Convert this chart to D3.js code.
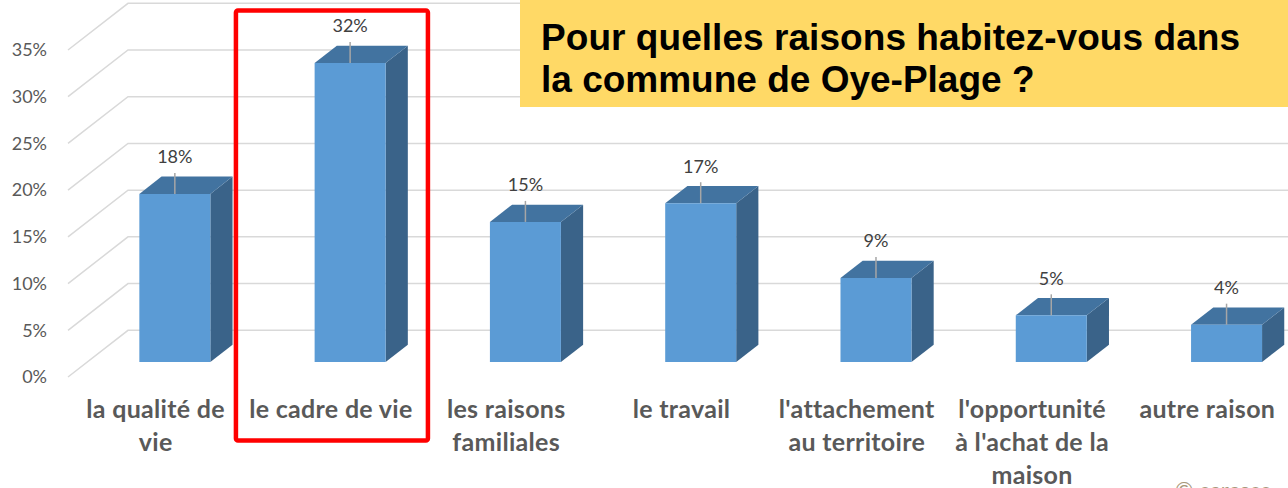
<!DOCTYPE html>
<html>
<head>
<meta charset="utf-8">
<script src="https://cdn.jsdelivr.net/npm/d3@7"></script>
<style>
  body { margin: 0; background: #fff; }
  svg { display: block; }
</style>
</head>
<body>
<svg></svg>
<script>
const width = 1288;
const height = 488;

// data
const categories = ["la qualité de vie", "le cadre de vie", "les raisons familiales", "le travail",
  "l'attachement au territoire", "l'opportunité à l'achat de la maison", "autre raison"];
const categoryLines = [["la qualité de", "vie"], ["le cadre de vie"], ["les raisons", "familiales"], ["le travail"],
  ["l'attachement", "au territoire"], ["l'opportunité", "à l'achat de la", "maison"], ["autre raison"]];
const values = [0.18, 0.32, 0.15, 0.17, 0.09, 0.05, 0.04];
const yTicks = [0, 0.05, 0.10, 0.15, 0.20, 0.25, 0.30, 0.35];
const titleLines = ["Pour quelles raisons habitez-vous dans", "la commune de Oye-Plage ?"];
const highlighted = "le cadre de vie";

const svg = d3.select('svg')
  .attr('width', width)
  .attr('height', height);

const x = d3.scaleBand()
  .domain(categories)
  .range([68, 1295]);

const y = d3.scaleLinear()
  .domain([0, 0.35])
  .range([377, 50]);

// fake 3d: depth 0 = front plane, depth 1 = back wall
const depthX = 60, depthY = -46.7;
const barFront = 0.32, barBack = 0.69;
const barW = 71;

function proj(px, v, d) {
  return [px + depthX * d, y(v) + depthY * d];
}

// gridlines: diagonal on the side wall, horizontal on the back wall
const grid = svg.append("g")
  .attr("class", "grid")
  .attr("stroke", "#d9d9d9")
  .attr("stroke-width", 1.5)
  .attr("fill", "none");

grid.selectAll("path")
  .data(yTicks)
  .enter()
  .append("path")
  .attr("d", function(t) {
    const a = proj(68, t, 0), b = proj(68, t, 1);
    return "M" + a + "L" + b + "L" + [width, b[1]];
  });

// y labels
svg.append("g")
  .selectAll("text")
  .data(yTicks)
  .enter()
  .append("text")
  .attr("x", 47)
  .attr("y", function(t) { return y(t); })
  .attr("dy", "0.35em")
  .attr("text-anchor", "end")
  .attr("font-family", "Lato, sans-serif")
  .attr("font-size", 18)
  .attr("fill", "#595959")
  .text(d3.format(".0%"));

// bars
const bar = svg.append("g")
  .attr("class", "bars")
  .selectAll("g")
  .data(values)
  .enter()
  .append("g");

function left(i) { return x(categories[i]) + x.bandwidth() / 2 - barW / 2; }
function right(i) { return left(i) + barW; }
function poly(pts) { return "M" + pts.join("L") + "Z"; }

bar.append("path")
  .attr("fill", "#3a6389")
  .attr("d", function(v, i) {
    return poly([proj(right(i), 0, barFront), proj(right(i), 0, barBack),
      proj(right(i), v, barBack), proj(right(i), v, barFront)]);
  });

bar.append("path")
  .attr("fill", "#4273a0")
  .attr("d", function(v, i) {
    return poly([proj(left(i), v, barFront), proj(right(i), v, barFront),
      proj(right(i), v, barBack), proj(left(i), v, barBack)]);
  });

bar.append("path")
  .attr("fill", "#5b9bd5")
  .attr("d", function(v, i) {
    return poly([proj(left(i), 0, barFront), proj(right(i), 0, barFront),
      proj(right(i), v, barFront), proj(left(i), v, barFront)]);
  });

// leader lines + value labels
bar.append("line")
  .attr("stroke", "#a6a6a6")
  .attr("stroke-width", 1.5)
  .attr("x1", function(v, i) { return proj(left(i) + barW / 2, v, barFront)[0]; })
  .attr("x2", function(v, i) { return proj(left(i) + barW / 2, v, barFront)[0]; })
  .attr("y1", function(v) { return proj(0, v, barFront)[1]; })
  .attr("y2", function(v) { return proj(0, v, barFront)[1] - 21; });

bar.append("text")
  .attr("x", function(v, i) { return proj(left(i) + barW / 2, v, barFront)[0]; })
  .attr("y", function(v) { return proj(0, v, barFront)[1] - 37; })
  .attr("dy", "0.35em")
  .attr("text-anchor", "middle")
  .attr("font-family", "Lato, sans-serif")
  .attr("font-size", 18)
  .attr("fill", "#404040")
  .text(d3.format(".0%"));

// category labels
const cat = svg.append("g")
  .selectAll("text")
  .data(categories)
  .enter()
  .append("text")
  .attr("text-anchor", "middle")
  .attr("font-family", "Lato, sans-serif")
  .attr("font-weight", "bold")
  .attr("font-size", 25)
  .attr("letter-spacing", 0.3)
  .attr("fill", "#595959");

cat.selectAll("tspan")
  .data(function(c, i) { return categoryLines[i]; })
  .enter()
  .append("tspan")
  .attr("x", function() { const c = d3.select(this.parentNode).datum(); return x(c) + x.bandwidth() / 2; })
  .attr("y", function(l, j) { return 418 + j * 33; })
  .text(function(l) { return l; });

// highlight box
const hx = x(highlighted);
svg.append("rect")
  .attr("x", hx + x.bandwidth() / 2 - 95)
  .attr("y", 10.5)
  .attr("width", 192)
  .attr("height", 430)
  .attr("rx", 2)
  .attr("fill", "none")
  .attr("stroke", "#ff0000")
  .attr("stroke-width", 4.5);

// title box
svg.append("rect")
  .attr("x", 520)
  .attr("y", 0)
  .attr("width", width - 520)
  .attr("height", 107)
  .attr("fill", "#ffd966");

svg.append("g")
  .selectAll("text")
  .data(titleLines)
  .enter()
  .append("text")
  .attr("x", 541)
  .attr("y", function(d, i) { return 50 + i * 42; })
  .attr("font-family", "'Liberation Sans', Arial, sans-serif")
  .attr("font-weight", "bold")
  .attr("font-size", 37)
  .attr("textLength", function(d, i) { return i === 0 ? 699 : null; })
  .attr("fill", "#000")
  .text(function(d) { return d; });

// copyright, cut at the bottom edge as in the source
svg.append("text")
  .attr("x", 1175)
  .attr("y", 498)
  .attr("font-family", "Lato, sans-serif")
  .attr("font-size", 22)
  .attr("fill", "#a8987a")
  .text("© ceresco");
</script>
</body>
</html>
